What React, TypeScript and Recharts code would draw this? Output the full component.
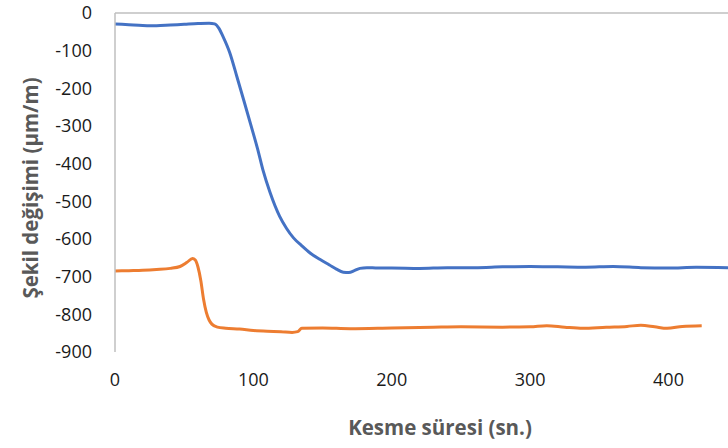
import React from "react";
import { LineChart, Line, XAxis, YAxis, ReferenceLine } from "recharts";

// Mavi seri (üst eğri)
const blueTime = [0, 10, 20, 30, 40, 50, 60, 68, 72, 75, 78, 83, 88, 93, 98, 103, 107, 112, 119, 124, 129, 135, 141, 148, 155, 160, 165, 169, 173, 177, 182, 190, 200, 220, 240, 260, 280, 300, 320, 340, 360, 380, 400, 420, 443];
const blueValue = [-29, -31, -33, -34, -32, -30, -28, -27, -29, -40, -62, -106, -168, -231, -295, -360, -418, -476, -540, -572, -597, -618, -637, -654, -669, -680, -688, -689, -684, -678, -676, -677, -677, -678, -676, -676, -674, -673, -674, -675, -673, -676, -677, -675, -676];

// Turuncu seri (alt eğri)
const orangeTime = [0, 10, 20, 30, 40, 47, 52, 56, 58, 60, 62, 64, 66, 68, 70, 74, 80, 90, 100, 110, 120, 128, 132, 135, 150, 170, 200, 230, 250, 280, 300, 312, 325, 338, 355, 370, 380, 390, 399, 410, 424];
const orangeValue = [-685, -684, -683, -681, -678, -673, -662, -652, -656, -675, -710, -760, -795, -815, -826, -834, -837, -839, -843, -845, -846, -848, -846, -837, -836, -838, -836, -834, -833, -834, -833, -830, -834, -837, -834, -832, -829, -833, -837, -832, -830];

const xTicks = [0, 100, 200, 300, 400];
const yTicks = [0, -100, -200, -300, -400, -500, -600, -700, -800, -900];

const blueData = blueTime.map((t, i) => ({ t, v: blueValue[i] }));
const orangeData = orangeTime.map((t, i) => ({ t, v: orangeValue[i] }));

const FONT = "'Open Sans', Lato, sans-serif";

export default function App() {
  return (
    <div style={{ width: 728, height: 448, overflow: "hidden", background: "#fff", fontFamily: FONT }}>
      <style>{`body{margin:0}`}</style>
      <LineChart width={728} height={448} margin={{ top: 13, right: 0, bottom: 0, left: 0 }}>
        <XAxis
          type="number"
          dataKey="t"
          domain={[0, 443]}
          ticks={xTicks}
          allowDataOverflow
          axisLine={false}
          tickLine={false}
          tickMargin={15}
          height={96}
          tick={{ fontSize: 18, fill: "#1a1a1a", fontFamily: FONT }}
          label={{
            content: () => (
              <text x={440} y={435} textAnchor="middle" fontSize={20.5} fontWeight="bold" fill="#595959" fontFamily={FONT}>
                Kesme süresi (sn.)
              </text>
            ),
          }}
        />
        <YAxis
          type="number"
          dataKey="v"
          domain={[-900, 0]}
          ticks={yTicks}
          width={115}
          axisLine={{ stroke: "#BFBFBF", strokeWidth: 1.5 }}
          tickLine={false}
          tickMargin={17}
          tick={{ fontSize: 18, fill: "#1a1a1a", fontFamily: FONT }}
          label={{
            content: () => (
              <text
                x={30}
                y={188}
                transform="rotate(-90, 30, 188)"
                textAnchor="middle"
                dominantBaseline="central"
                fontSize={20.5}
                fontWeight="bold"
                fill="#595959"
                fontFamily={FONT}
              >
                Şekil değişimi (µm/m)
              </text>
            ),
          }}
        />
        <ReferenceLine y={0} stroke="#BFBFBF" strokeWidth={1.5} />
        <Line data={blueData} dataKey="v" type="monotone" stroke="#4472C4" strokeWidth={3} dot={false} isAnimationActive={false} />
        <Line data={orangeData} dataKey="v" type="monotone" stroke="#ED7D31" strokeWidth={3} dot={false} isAnimationActive={false} />
      </LineChart>
    </div>
  );
}
